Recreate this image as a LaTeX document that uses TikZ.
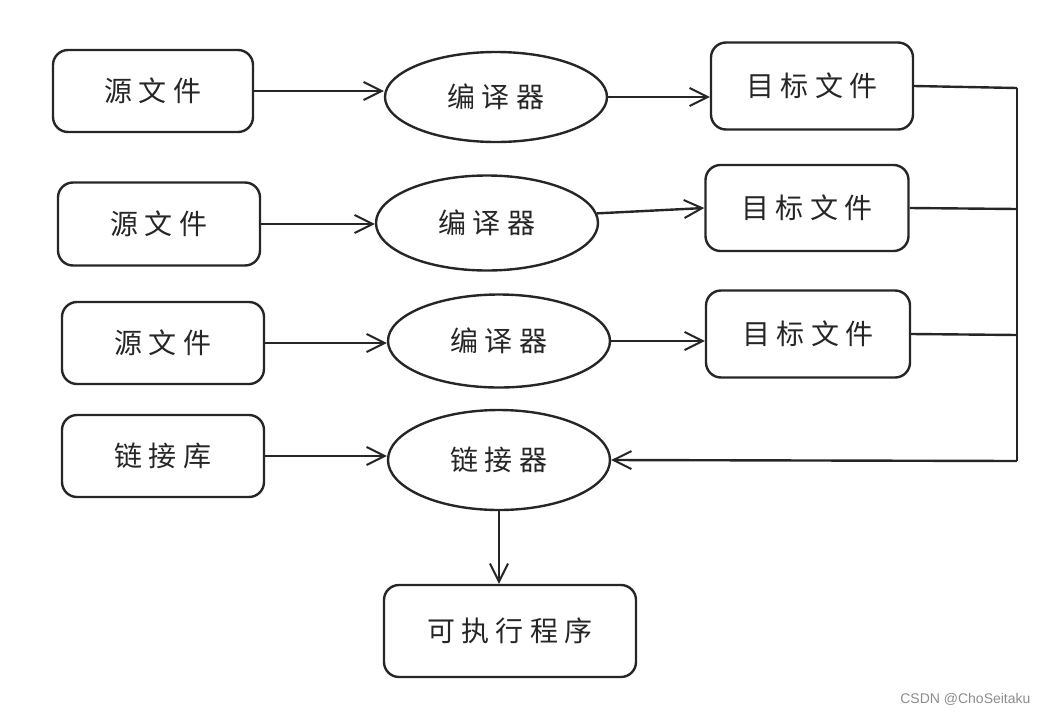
\documentclass[tikz,border=0pt]{standalone}
\usepackage{fontspec}
\usetikzlibrary{shapes.geometric,arrows.meta}
\newfontfamily\cjk[LetterSpace=22]{Noto Sans CJK SC}
\setsansfont{Liberation Sans}
\begin{document}
\begin{tikzpicture}[x=1pt,y=-1pt,
  every node/.style={font=\cjk\fontsize{28}{30}\selectfont, text=black!85},
  box/.style={draw=black!85, line width=2.4pt, rounded corners=15pt, inner sep=0pt},
  ell/.style={draw=black!85, line width=2.4pt, ellipse, inner sep=0pt},
  conn/.style={draw=black!85, line width=2.4pt},
  arr/.style={conn, -{Straight Barb[length=18pt,width=18pt,line width=2pt]}}]
\useasboundingbox (0,0) rectangle (1049,715);
% row 1
\node[box, minimum width=200pt, minimum height=82pt] (src1) at (153,91) {源文件};
\node[ell, minimum width=222pt, minimum height=90pt] (ell1) at (496,97) {编译器};
\node[box, minimum width=202pt, minimum height=87pt] (obj1) at (812,86) {目标文件};
% row 2
\node[box, minimum width=202pt, minimum height=83pt] (src2) at (159,224) {源文件};
\node[ell, minimum width=222pt, minimum height=95pt] (ell2) at (487,223) {编译器};
\node[box, minimum width=203pt, minimum height=86pt] (obj2) at (807,208) {目标文件};
% row 3
\node[box, minimum width=202pt, minimum height=82pt] (src3) at (163,343) {源文件};
\node[ell, minimum width=222pt, minimum height=93pt] (ell3) at (499,341) {编译器};
\node[box, minimum width=204pt, minimum height=87pt] (obj3) at (808,334) {目标文件};
% row 4
\node[box, minimum width=202pt, minimum height=82pt] (lib) at (163,456) {链接库};
\node[ell, minimum width=222pt, minimum height=100pt] (link) at (499,460) {链接器};
% bottom
\node[box, minimum width=252pt, minimum height=92pt] (exe) at (510,631) {可执行程序};
% bus
\coordinate (b1) at (1017,88);
\coordinate (b2) at (1017,209);
\coordinate (b3) at (1017,335);
\coordinate (b4) at (1017,461);
% arrows
\draw[arr] (src1.east) -- (ell1.west |- src1.east);
\draw[arr] (ell1.east) -- (obj1.west |- ell1.east);
\draw[arr] (src2.east) -- (ell2.west |- src2.east);
\draw[arr] (ell2.5) -- (obj2.west);
\draw[arr] (src3.east) -- (ell3.west |- src3.east);
\draw[arr] (ell3.east) -- (obj3.west |- ell3.east);
\draw[arr] (lib.east) -- (link.west |- lib.east);
\draw[conn] (obj1.east) -- (b1);
\draw[conn] (obj2.east) -- (b2);
\draw[conn] (obj3.east) -- (b3);
\draw[conn] (b1) -- (b4);
\draw[arr] (b4) -- (link.east);
\draw[arr] (link.south) -- (link.south |- exe.north);
% watermark
\node[font=\sffamily\fontsize{14}{16}\selectfont, text=black!45, anchor=east] (wm) at (1034,699) {CSDN @ChoSeitaku};
\end{tikzpicture}
\end{document}
